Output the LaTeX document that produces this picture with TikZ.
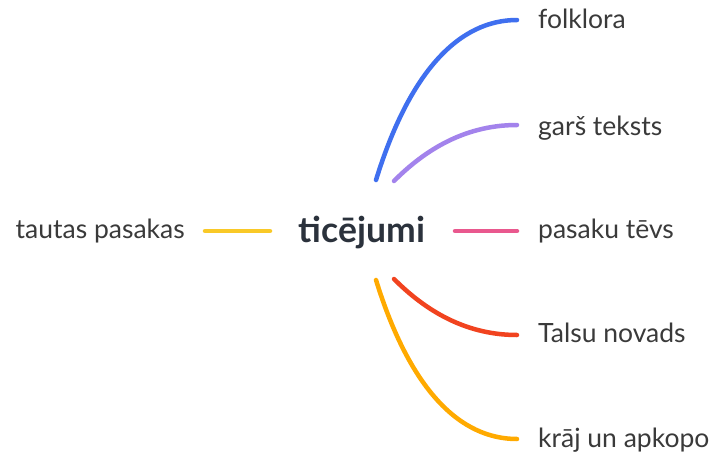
\documentclass[tikz,border=0pt]{standalone}
\usepackage{fontspec}
\setmainfont{Lato}
\definecolor{txt}{HTML}{3A3A3A}
\definecolor{ctr}{HTML}{2B323C}
\definecolor{cblue}{HTML}{3F6FEF}
\definecolor{cpurple}{HTML}{A383EC}
\definecolor{cpink}{HTML}{E9588E}
\definecolor{cred}{HTML}{F1431F}
\definecolor{corange}{HTML}{FFAA00}
\definecolor{cyellow}{HTML}{F9C928}
\begin{document}
\begin{tikzpicture}[x=1pt,y=-1pt,
  lbl/.style={inner sep=0pt,anchor=base west,text=txt,font=\fontsize{26.5}{30}\selectfont},
  conn/.style={line width=4.5pt,line cap=round}]
\useasboundingbox[fill=white] (0,0) rectangle (725,460);
\node[inner sep=0pt,anchor=base,text=ctr,font=\fontsize{35.5}{40}\selectfont\bfseries] (c) at (362,242) {ticējumi};
\node[lbl] (l1) at (538,29) {folklora};
\node[lbl] (l2) at (538,135) {garš teksts};
\node[lbl] (l3) at (538,238) {pasaku tēvs};
\node[lbl] (l4) at (538,342) {Talsu novads};
\node[lbl] (l5) at (538,447) {krāj un apkopo};
\node[lbl,anchor=base east] (l0) at (185,238) {tautas pasakas};
\coordinate (b0) at (376,180); \coordinate (b1) at (517,20);
\coordinate (p0) at (394,181); \coordinate (p1) at (517,125);
\coordinate (k0) at (455,231); \coordinate (k1) at (517,231);
\coordinate (r0) at (394,279); \coordinate (r1) at (517,335);
\coordinate (o0) at (376,280); \coordinate (o1) at (517,439);
\coordinate (y0) at (205,231); \coordinate (y1) at (270,231);
\draw[conn,cblue] (b0) .. controls (410,70) and (460,20) .. (b1);
\draw[conn,cpurple] (p0) .. controls (420,155) and (460,125) .. (p1);
\draw[conn,cpink] (k0) -- (k1);
\draw[conn,cred] (r0) .. controls (420,305) and (460,335) .. (r1);
\draw[conn,corange] (o0) .. controls (410,390) and (460,439) .. (o1);
\draw[conn,cyellow] (y0) -- (y1);
\end{tikzpicture}
\end{document}
